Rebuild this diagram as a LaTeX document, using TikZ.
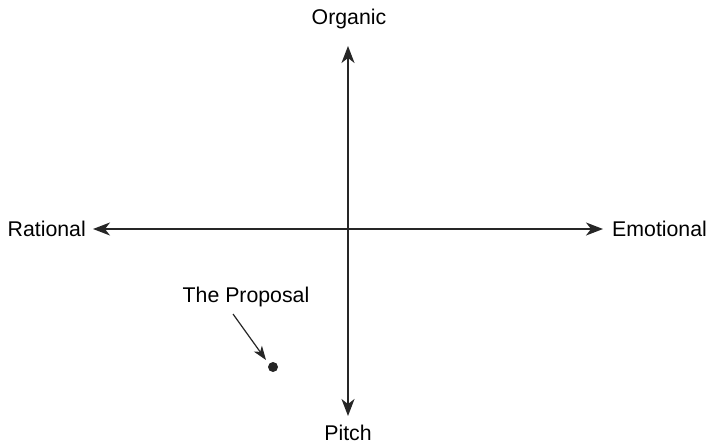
\documentclass[tikz,border=0pt]{standalone}
\usepackage{fontspec}
\setmainfont{Liberation Sans}
\usetikzlibrary{arrows.meta}
\begin{document}
\begin{tikzpicture}[x=1pt,y=-1pt,
  lbl/.style={font=\fontsize{21.3}{25}\selectfont, text=black, inner sep=0pt},
  axis/.style={line width=1.4pt, draw=black!85, {Stealth[length=17pt,width=13pt,inset=5pt]}-{Stealth[length=17pt,width=13pt,inset=5pt]}},
  ptr/.style={line width=1.2pt, draw=black!85, -{Stealth[length=14pt,width=10pt,inset=4pt]}}]
\useasboundingbox (0,0) rectangle (708,444);
\node[lbl] (org) at (349,19) {Organic};
\node[lbl] (pit) at (348,433) {Pitch};
\node[lbl, anchor=east] (rat) at (86,229) {Rational};
\node[lbl, anchor=west] (emo) at (612,229) {Emotional};
\coordinate (top) at (348,46);
\coordinate (bot) at (348,416);
\coordinate (lft) at (93,229);
\coordinate (rgt) at (603,229);
\draw[axis] (bot) -- (top);
\draw[axis] (lft) -- (rgt);
\node[lbl] (prop) at (246,297) {The Proposal};
\node[circle, fill=black!85, inner sep=0pt, minimum size=10pt] (dot) at (273,367) {};
\coordinate (ps) at (233,314);
\draw[ptr] (ps) -- (266,360);
\end{tikzpicture}
\end{document}
